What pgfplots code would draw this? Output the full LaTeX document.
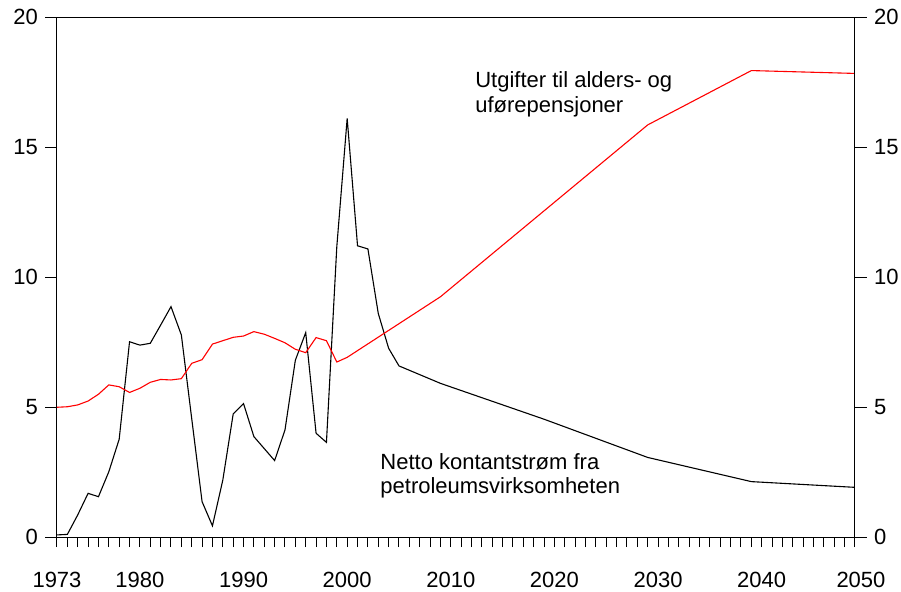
\documentclass[border=0pt]{standalone}
\usepackage{fontspec}
\setmainfont{Liberation Sans}
\usepackage{pgfplots}
\pgfplotsset{compat=1.18}
\pgfplotstableread{
year value
1973 0.08
1974 0.10
1975 0.85
1976 1.68
1977 1.55
1978 2.51
1979 3.76
1980 7.51
1981 7.38
1982 7.45
1983 8.15
1984 8.86
1985 7.77
1986 4.55
1987 1.36
1988 0.43
1989 2.19
1990 4.73
1991 5.13
1992 3.86
1993 3.40
1994 2.94
1995 4.12
1996 6.80
1997 7.86
1998 3.99
1999 3.64
2000 11.17
2001 16.10
2002 11.20
2003 11.08
2004 8.60
2005 7.26
2006 6.58
2010 5.91
2020 4.53
2030 3.06
2040 2.13
2050 1.91
}\netto
\pgfplotstableread{
year value
1973 4.99
1974 5.01
1975 5.08
1976 5.23
1977 5.49
1978 5.85
1979 5.78
1980 5.56
1981 5.72
1982 5.95
1983 6.06
1984 6.04
1985 6.09
1986 6.68
1987 6.82
1988 7.42
1989 7.55
1990 7.68
1991 7.73
1992 7.90
1993 7.80
1994 7.64
1995 7.47
1996 7.22
1997 7.09
1998 7.67
1999 7.55
2000 6.73
2001 6.91
2010 9.24
2030 15.85
2040 17.94
2050 17.83
}\utgifter
\pgfplotsset{
  common/.style={
    scale only axis, width=399pt, height=260pt,
    xmin=1973, xmax=2050, ymin=0, ymax=20,
    ytick={0,5,10,15,20},
    tick align=outside,
    major tick length=6pt,
    minor tick length=5pt,
    axis line style={line width=0.5pt, black},
    every tick/.append style={line width=0.5pt, black},
    /pgf/number format/assume math mode=true,
    tick label style={font=\fontsize{11}{13}\selectfont, text=black},
  }
}
\begin{document}
\begin{tikzpicture}
\useasboundingbox (-28.5pt,-27pt) rectangle (422pt,268.5pt);
\begin{axis}[common,
  ytick pos=left,
  xtick pos=lower,
  xtick={1973,1981,1991,2001,2011,2021,2031,2041,2050},
  xticklabels={1973,1980,1990,2000,2010,2020,2030,2040,\hspace*{6pt}2050},
  every major x tick/.append style={draw=none},
  minor xtick={1973,1974,...,2050},
  xticklabel style={yshift=-8pt},
]
\addplot[black, line width=0.55pt, mark=none] table[x=year, y=value] {\netto};
\addplot[red, line width=0.55pt, mark=none] table[x=year, y=value] {\utgifter};
\node[anchor=base west, inner sep=0pt, font=\fontsize{11}{13}\selectfont] at (axis cs:2013.33,17.27) {Utgifter til alders- og};
\node[anchor=base west, inner sep=0pt, font=\fontsize{11}{13}\selectfont] at (axis cs:2013.33,16.33) {uførepensjoner};
\node[anchor=base west, inner sep=0pt, font=\fontsize{11}{13}\selectfont] at (axis cs:2004.17,2.615) {Netto kontantstrøm fra};
\node[anchor=base west, inner sep=0pt, font=\fontsize{11}{13}\selectfont] at (axis cs:2004.17,1.69) {petroleumsvirksomheten};
\end{axis}
\begin{axis}[common,
  axis x line=none,
  axis y line*=right,
  ytick pos=right,
  yticklabel pos=right,
]
\end{axis}
\end{tikzpicture}
\end{document}
